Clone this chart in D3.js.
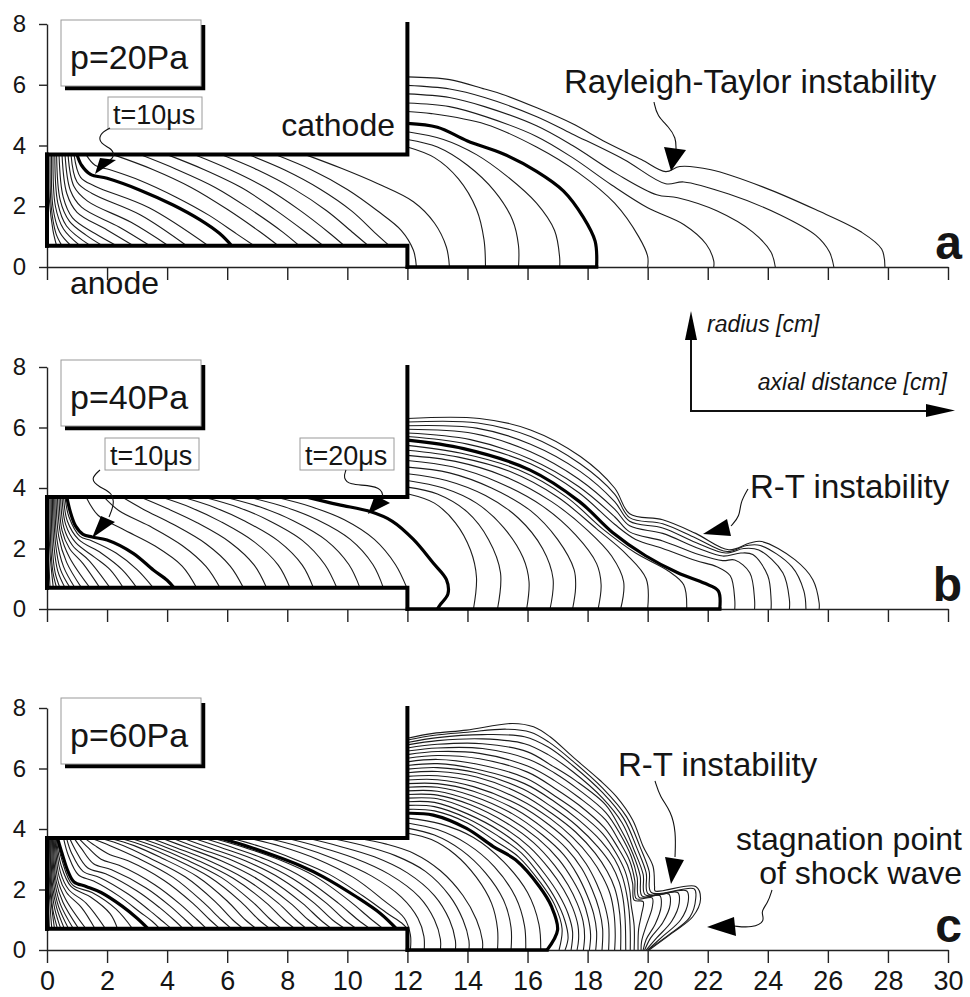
<!DOCTYPE html>
<html>
<head>
<meta charset="utf-8">
<script src="https://cdn.jsdelivr.net/npm/d3@7"></script>
<style>
  body { margin: 0; background: #fff; }
  text { font-family: "Liberation Sans", Arial, sans-serif; fill: #151515; }
</style>
</head>
<body>
<div id="chart"></div>
<script>
(function() {
  var width = 970,
    height = 997;

  // axis ticks
  var xTicks = [0, 2, 4, 6, 8, 10, 12, 14, 16, 18, 20, 22, 24, 26, 28, 30];
  var yTicks = [0, 2, 4, 6, 8];

  var panelLetters = ["a", "b", "c"];
  var pressures = ["p=20Pa", "p=40Pa", "p=60Pa"];

  // electrode geometry [cm]
  var cathodeR = 3.7,
    anodeR = 0.7,
    electrodeEnd = 12;

  // current sheath positions, [axial cm, radius cm], p=20Pa
  var thinA = [
    [[0.05,3.7],[0.08,2.2],[0.2,1.2],[0.32,0.7]],
    [[0.1,3.7],[0.14,2.0],[0.3,1.1],[0.5,0.7]],
    [[0.15,3.7],[0.2,1.95],[0.42,1.15],[0.8,0.7]],
    [[0.2,3.7],[0.28,2.0],[0.55,1.25],[1.1,0.7]],
    [[0.26,3.7],[0.36,2.1],[0.65,1.35],[1.45,0.7]],
    [[0.32,3.7],[0.44,2.2],[0.75,1.5],[1.3,1.05],[1.85,0.7]],
    [[0.4,3.7],[0.54,2.3],[0.85,1.62],[1.6,1.1],[2.32,0.7]],
    [[0.5,3.7],[0.66,2.42],[1.0,1.8],[2.0,1.22],[2.88,0.7]],
    [[0.6,3.7],[0.78,2.52],[1.15,1.97],[2.4,1.32],[3.43,0.7]],
    [[0.7,3.7],[0.9,2.65],[1.35,2.17],[2.8,1.47],[4.04,0.7]],
    [[0.8,3.7],[1.0,2.8],[1.5,2.42],[3.1,1.72],[4.65,0.7]],
    [[0.9,3.7],[1.12,2.95],[1.6,2.66],[3.4,1.95],[5.37,0.7]],
    [[1.3,3.7],[1.6,3.35],[2.1,3.2],[3.1,2.85],[4.3,2.3],[5.4,1.7],[6.3,1.1],[6.9,0.7]],
    [[2.2,3.7],[3.5,3.22],[4.8,2.62],[6.0,1.9],[7.1,1.15],[7.7,0.7]],
    [[3.1,3.7],[4.3,3.22],[5.6,2.62],[6.8,1.88],[7.85,1.15],[8.4,0.7]],
    [[4.0,3.7],[5.2,3.22],[6.5,2.6],[7.6,1.88],[8.65,1.12],[9.2,0.7]],
    [[4.9,3.7],[6.1,3.2],[7.3,2.6],[8.4,1.88],[9.4,1.12],[9.9,0.7]],
    [[5.8,3.7],[7.0,3.2],[8.2,2.58],[9.3,1.86],[10.2,1.12],[10.7,0.7]],
    [[6.7,3.7],[7.9,3.2],[9.1,2.56],[10.15,1.84],[10.95,1.1],[11.4,0.7]],
    [[7.6,3.7],[8.8,3.2],[10.0,2.55],[11.0,1.85],[11.8,1.2],[12.2,0.55],[12.3,0]],
    [[8.6,3.7],[9.8,3.25],[11.0,2.75],[12.2,2.15],[12.9,1.45],[13.3,0.65],[13.4,0]],
    [[12,3.95],[12.9,3.6],[13.7,2.9],[14.3,1.9],[14.55,0.9],[14.6,0]],
    [[12,4.2],[13.0,3.95],[14.0,3.35],[14.9,2.5],[15.5,1.55],[15.7,0.7],[15.7,0]],
    [[12,4.45],[13.2,4.2],[14.3,3.7],[15.3,3.0],[16.3,2.1],[16.9,1.2],[17.07,0.3],[17.07,0]],
    [[12,5.12],[12.8,5.05],[14.6,4.7],[16.3,3.95],[17.7,3.1],[18.9,2.1],[19.7,1.0],[20.0,0.35],[20.0,0]],
    [[12,5.4],[13.4,5.28],[14.6,4.95],[16.3,4.3],[17.5,3.6],[18.8,2.7],[20.0,1.95],[21.2,1.4],[21.95,0.75],[22.2,0.2],[22.2,0]],
    [[12,5.7],[13.4,5.58],[14.57,5.28],[16.3,4.65],[17.5,4.0],[19.0,3.05],[20.3,2.38],[21.0,2.28],[22.3,1.85],[23.5,1.15],[24.1,0.5],[24.25,0]],
    [[12,5.98],[13.41,5.86],[14.57,5.58],[16.31,4.95],[17.47,4.39],[19.21,3.54],[20.6,2.74],[21.2,2.8],[22.7,2.4],[24.4,1.72],[25.6,1.04],[26.05,0.5],[26.2,0]],
    [[12,6.26],[13.41,6.17],[14.57,5.86],[15.15,5.69],[16.31,5.24],[17.47,4.73],[18.63,4.1],[19.79,3.54],[20.6,3.14],[21.07,3.31],[22.11,3.2],[23.85,2.63],[25.59,1.89],[27.1,1.16],[27.79,0.59],[27.9,0]]
  ];
  var thickA = [
    [[1.0,3.7],[1.15,3.35],[1.45,3.05],[2.0,2.92],[3.1,2.53],[4.2,2.04],[5.1,1.55],[5.75,1.1],[6.15,0.7]],
    [[12,4.73],[13.0,4.6],[14.0,4.15],[15.2,3.72],[16.3,3.15],[17.2,2.5],[17.85,1.65],[18.25,0.85],[18.3,0]]
  ];

  // p=40Pa
  var thinB = [
    [[0.03,3.7],[0.05,2.0],[0.1,0.7]],
    [[0.06,3.7],[0.09,2.0],[0.21,0.7]],
    [[0.1,3.7],[0.13,2.0],[0.2,1.2],[0.32,0.7]],
    [[0.14,3.7],[0.18,2.0],[0.27,1.2],[0.43,0.7]],
    [[0.18,3.7],[0.23,2.1],[0.36,1.25],[0.6,0.7]],
    [[0.22,3.7],[0.28,2.2],[0.45,1.3],[0.77,0.7]],
    [[0.26,3.7],[0.33,2.3],[0.55,1.4],[0.93,0.7]],
    [[0.3,3.7],[0.39,2.4],[0.65,1.55],[1.15,0.7]],
    [[0.35,3.7],[0.45,2.5],[0.75,1.7],[1.43,0.7]],
    [[0.4,3.7],[0.5,2.6],[0.75,2.0],[1.2,1.5],[1.76,0.7]],
    [[0.45,3.7],[0.56,2.7],[0.85,2.1],[1.4,1.6],[2.1,0.7]],
    [[0.5,3.7],[0.62,2.8],[0.95,2.2],[1.6,1.7],[2.1,1.3],[2.54,0.7]],
    [[0.55,3.7],[0.68,2.9],[1.05,2.3],[1.8,1.85],[2.5,1.3],[2.99,0.7]],
    [[0.6,3.7],[0.73,3.05],[1.1,2.4],[1.5,2.25],[2.3,1.85],[3.0,1.3],[3.54,0.7]],
    [[1.3,3.7],[1.7,3.1],[2.5,2.65],[3.6,2.08],[4.5,1.42],[4.98,0.7]],
    [[1.9,3.7],[2.4,3.25],[3.4,2.75],[4.5,2.1],[5.3,1.4],[5.76,0.7]],
    [[2.5,3.7],[3.2,3.3],[4.2,2.8],[5.3,2.15],[6.1,1.42],[6.54,0.7]],
    [[3.1,3.7],[4.0,3.32],[5.0,2.85],[6.1,2.2],[6.9,1.45],[7.31,0.7]],
    [[3.8,3.7],[4.8,3.35],[5.8,2.88],[6.9,2.22],[7.7,1.45],[8.09,0.7]],
    [[4.5,3.7],[5.6,3.35],[6.6,2.9],[7.7,2.25],[8.5,1.45],[8.87,0.7]],
    [[5.2,3.7],[6.4,3.35],[7.4,2.92],[8.5,2.27],[9.25,1.47],[9.65,0.7]],
    [[5.9,3.7],[7.1,3.37],[8.2,2.92],[9.3,2.27],[10.05,1.47],[10.42,0.7]],
    [[6.7,3.7],[7.9,3.38],[9.0,2.95],[10.1,2.3],[10.85,1.47],[11.2,0.7]],
    [[7.6,3.7],[8.8,3.38],[9.9,2.95],[10.9,2.3],[11.6,1.47],[11.98,0.7]],
    [[12,3.81],[12.9,3.5],[13.6,2.85],[14.1,1.95],[14.3,1.05],[14.2,0]],
    [[12,4.03],[13.0,3.8],[14.0,3.2],[14.7,2.3],[15.1,1.2],[15.0,0]],
    [[12,4.25],[13.2,4.0],[14.3,3.5],[15.2,2.7],[15.85,1.7],[16.05,0.9],[15.97,0]],
    [[12,4.47],[13.3,4.25],[14.6,3.75],[15.7,3.0],[16.5,2.0],[16.85,1.0],[16.75,0]],
    [[12,4.69],[13.4,4.5],[14.8,4.0],[16.1,3.25],[17.0,2.3],[17.55,1.3],[17.6,0.7],[17.5,0]],
    [[12,4.91],[13.5,4.7],[15.0,4.2],[16.5,3.4],[17.6,2.45],[18.3,1.5],[18.45,0.8],[18.35,0]],
    [[12,5.08],[13.6,4.88],[15.2,4.4],[16.8,3.55],[18.0,2.6],[18.8,1.75],[19.2,0.9],[19.1,0]],
    [[12,5.25],[13.7,5.02],[15.4,4.55],[17.0,3.7],[18.3,2.65],[19.3,1.8],[19.95,1.0],[20.0,0]],
    [[12,5.41],[13.8,5.15],[15.7,4.6],[17.3,3.7],[18.5,2.65],[19.6,1.85],[20.7,1.25],[21.2,0.8],[21.3,0]],
    [[12,5.7],[14.0,5.45],[16.1,4.8],[17.7,3.85],[18.9,2.8],[19.6,2.3],[20.5,2.0],[21.6,1.6],[22.3,1.4],[22.75,1.1],[22.9,0.3],[22.9,0]],
    [[12,5.82],[14.1,5.6],[16.1,4.95],[17.7,4.05],[18.9,3.05],[19.4,2.55],[20.5,2.25],[21.7,1.8],[22.5,1.6],[22.9,1.62],[23.4,1.2],[23.56,0.3],[23.56,0]],
    [[12,5.94],[14.2,5.8],[16.1,5.2],[17.7,4.3],[18.9,3.3],[19.4,2.75],[20.5,2.5],[21.7,2.0],[22.5,1.75],[23.1,1.85],[23.5,1.8],[24.0,1.1],[24.11,0.3],[24.11,0]],
    [[12,6.06],[14.3,5.98],[16.1,5.45],[17.75,4.55],[18.9,3.55],[19.4,2.9],[20.5,2.68],[21.6,2.2],[22.6,1.85],[23.2,2.0],[23.7,1.95],[24.5,1.2],[24.72,0.3],[24.72,0]],
    [[12,6.18],[14.35,6.15],[16.1,5.7],[17.75,4.8],[18.9,3.8],[19.4,3.02],[20.5,2.82],[21.6,2.35],[22.65,1.9],[23.3,2.1],[23.75,2.1],[24.8,1.4],[25.2,0.6],[25.27,0]],
    [[12,6.3],[14.4,6.3],[16.1,5.92],[17.76,5.04],[18.9,4.0],[19.4,3.15],[20.5,2.95],[21.6,2.5],[22.7,1.96],[23.4,2.18],[23.8,2.23],[24.9,1.63],[25.5,0.97],[25.71,0.2],[25.71,0]]
  ];
  var thickB = [
    [[0.66,3.7],[0.78,3.2],[0.95,2.75],[1.2,2.47],[1.5,2.38],[2.0,2.28],[2.87,1.84],[3.54,1.29],[4.0,0.95],[4.23,0.7]],
    [[8.65,3.7],[9.7,3.45],[10.76,3.22],[11.5,2.9],[12.2,2.3],[12.86,1.52],[13.3,0.97],[13.35,0.5],[13.1,0.15],[13.0,0]],
    [[12,5.58],[13.87,5.3],[16.07,4.6],[17.73,3.55],[18.83,2.53],[19.93,1.76],[21.0,1.2],[21.9,0.85],[22.35,0.6],[22.4,0]]
  ];

  // p=60Pa
  var thinC = [
    [[0.02,3.7],[0.04,2.0],[0.08,0.7]],
    [[0.04,3.7],[0.07,2.0],[0.16,0.7]],
    [[0.06,3.7],[0.1,2.0],[0.25,0.7]],
    [[0.08,3.7],[0.13,2.0],[0.2,1.3],[0.35,0.7]],
    [[0.1,3.7],[0.16,2.05],[0.26,1.35],[0.46,0.7]],
    [[0.12,3.7],[0.19,2.1],[0.32,1.4],[0.58,0.7]],
    [[0.15,3.7],[0.23,2.15],[0.38,1.45],[0.72,0.7]],
    [[0.18,3.7],[0.27,2.2],[0.45,1.5],[0.88,0.7]],
    [[0.21,3.7],[0.31,2.25],[0.53,1.58],[1.06,0.7]],
    [[0.24,3.7],[0.36,2.32],[0.62,1.68],[1.3,0.7]],
    [[0.27,3.7],[0.4,2.45],[0.65,1.9],[1.15,1.4],[1.6,0.7]],
    [[0.29,3.7],[0.44,2.6],[0.72,2.0],[1.3,1.55],[1.95,0.7]],
    [[0.31,3.7],[0.47,2.8],[0.8,2.1],[1.45,1.75],[2.1,1.2],[2.35,0.7]],
    [[0.33,3.7],[0.49,3.0],[0.85,2.15],[1.5,1.9],[2.3,1.35],[2.85,0.7]],
    [[0.55,3.7],[0.72,3.1],[1.05,2.48],[1.55,2.28],[2.4,1.78],[3.1,1.25],[3.5,0.95],[3.76,0.7]],
    [[0.65,3.7],[0.82,3.2],[1.2,2.6],[1.75,2.4],[2.7,1.85],[3.4,1.32],[3.85,0.95],[4.15,0.7]],
    [[0.75,3.7],[0.95,3.3],[1.35,2.72],[1.95,2.52],[3.0,1.95],[3.75,1.4],[4.22,1.0],[4.54,0.7]],
    [[0.9,3.7],[1.15,3.35],[1.55,2.85],[2.15,2.65],[3.3,2.05],[4.1,1.45],[4.6,1.0],[4.92,0.7]],
    [[1.05,3.7],[1.35,3.4],[1.8,3.0],[2.4,2.8],[3.6,2.15],[4.45,1.5],[5.0,1.0],[5.32,0.7]],
    [[1.25,3.7],[1.6,3.45],[2.1,3.15],[2.7,2.95],[3.9,2.3],[4.85,1.55],[5.42,1.0],[5.76,0.7]],
    [[1.45,3.7],[2.1,3.45],[3.0,3.05],[4.2,2.4],[5.2,1.58],[5.8,1.0],[6.15,0.7]],
    [[1.75,3.7],[2.55,3.45],[3.4,3.05],[4.6,2.42],[5.6,1.6],[6.18,1.0],[6.54,0.7]],
    [[2.05,3.7],[2.9,3.45],[3.8,3.05],[5.0,2.43],[6.0,1.62],[6.6,1.0],[6.98,0.7]],
    [[2.4,3.7],[3.25,3.44],[4.2,3.03],[5.4,2.42],[6.45,1.6],[7.05,1.0],[7.43,0.7]],
    [[2.75,3.7],[3.6,3.42],[4.6,3.0],[5.8,2.4],[6.85,1.58],[7.45,1.0],[7.82,0.7]],
    [[3.1,3.7],[3.95,3.4],[5.0,2.97],[6.2,2.37],[7.3,1.56],[7.88,1.0],[8.26,0.7]],
    [[3.45,3.7],[4.3,3.38],[5.4,2.95],[6.6,2.35],[7.7,1.55],[8.28,1.0],[8.65,0.7]],
    [[3.8,3.7],[4.7,3.37],[5.8,2.95],[7.0,2.35],[8.1,1.55],[8.7,1.0],[9.09,0.7]],
    [[4.15,3.7],[5.1,3.35],[6.2,2.95],[7.4,2.35],[8.5,1.55],[9.1,1.0],[9.48,0.7]],
    [[4.5,3.7],[5.5,3.35],[6.6,2.95],[7.8,2.35],[8.9,1.55],[9.5,1.0],[9.93,0.7]],
    [[4.85,3.7],[5.9,3.35],[7.0,2.95],[8.2,2.35],[9.3,1.55],[9.9,1.0],[10.31,0.7]],
    [[5.2,3.7],[6.3,3.35],[7.4,2.95],[8.6,2.35],[9.7,1.55],[10.35,1.0],[10.76,0.7]],
    [[5.5,3.7],[6.6,3.38],[7.7,3.0],[8.9,2.45],[10.1,1.6],[10.75,1.05],[11.2,0.7]],
    [[6.1,3.7],[7.1,3.42],[8.2,3.02],[9.4,2.5],[10.5,1.8],[11.35,1.2],[11.8,0.9],[11.98,0.72]],
    [[6.7,3.7],[7.8,3.42],[9.0,3.0],[10.2,2.4],[11.2,1.65],[11.9,1.05],[12.1,0.5],[12.1,0]],
    [[7.3,3.7],[8.4,3.42],[9.6,3.0],[10.8,2.45],[11.8,1.75],[12.35,1.05],[12.55,0.45],[12.56,0]],
    [[7.95,3.7],[9.0,3.43],[10.2,3.05],[11.4,2.5],[12.4,1.75],[12.9,1.0],[13.1,0.35],[13.1,0]],
    [[8.65,3.7],[9.7,3.44],[10.9,3.08],[12.0,2.55],[12.9,1.8],[13.4,1.0],[13.6,0.3],[13.6,0]],
    [[9.4,3.7],[10.5,3.46],[11.6,3.12],[12.6,2.6],[13.4,1.8],[13.85,1.0],[14.05,0.3],[14.05,0]],
    [[10.3,3.7],[11.3,3.5],[12.2,3.2],[13.1,2.62],[13.85,1.8],[14.3,1.0],[14.5,0.3],[14.5,0]],
    [[12,3.86],[12.8,3.65],[13.6,3.15],[14.3,2.4],[14.8,1.55],[15.0,0.7],[15.0,0]],
    [[12,4.03],[12.9,3.8],[13.8,3.3],[14.6,2.55],[15.2,1.65],[15.45,0.75],[15.45,0]],
    [[12,4.2],[13.0,3.98],[14.0,3.5],[14.9,2.75],[15.6,1.75],[15.9,0.8],[15.94,0]],
    [[12,4.36],[13.1,4.17],[14.2,3.72],[15.2,2.92],[16.0,1.9],[16.38,0.85],[16.44,0]],
    [[12,4.65],[12.9,4.6],[14.0,4.2],[14.9,3.62],[15.7,3.08],[16.45,2.2],[16.9,1.5],[17.15,0.7],[17.05,0]],
    [[12,4.78],[12.9,4.74],[14.0,4.35],[15.0,3.78],[15.8,3.2],[16.5,2.35],[16.95,1.65],[17.25,0.95],[17.35,0.4],[17.25,0]],
    [[12,4.9],[12.9,4.88],[14.0,4.5],[15.1,3.92],[15.9,3.3],[16.6,2.48],[17.05,1.82],[17.35,1.2],[17.5,0.6],[17.45,0]],
    [[12,5.02],[13.0,5.0],[14.05,4.65],[15.2,4.05],[16.05,3.42],[16.75,2.65],[17.2,2.0],[17.5,1.4],[17.68,0.8],[17.7,0.35],[17.65,0]],
    [[12,5.14],[13.0,5.12],[14.1,4.8],[15.3,4.2],[16.2,3.55],[16.9,2.8],[17.35,2.15],[17.65,1.55],[17.85,0.95],[17.9,0.45],[17.86,0]],
    [[12,5.26],[13.0,5.25],[14.1,4.95],[15.4,4.35],[16.35,3.68],[17.05,2.98],[17.5,2.32],[17.82,1.7],[18.02,1.05],[18.1,0.5],[18.06,0]],
    [[12,5.38],[13.0,5.38],[14.15,5.1],[15.5,4.5],[16.5,3.8],[17.2,3.15],[17.65,2.5],[17.98,1.82],[18.2,1.2],[18.3,0.6],[18.27,0]],
    [[12,5.5],[13.0,5.5],[14.2,5.25],[15.6,4.65],[16.6,3.97],[17.3,3.35],[17.8,2.7],[18.15,2.0],[18.38,1.35],[18.5,0.7],[18.48,0]],
    [[12,5.62],[13.0,5.63],[14.2,5.4],[15.7,4.8],[16.7,4.15],[17.4,3.55],[17.95,2.85],[18.3,2.2],[18.55,1.55],[18.7,0.85],[18.7,0]],
    [[12,5.74],[13.0,5.76],[14.25,5.56],[15.75,4.97],[16.75,4.35],[17.5,3.72],[18.1,3.05],[18.5,2.42],[18.75,1.85],[18.88,1.2],[18.92,0.5],[18.9,0]],
    [[12,5.86],[13.0,5.9],[14.3,5.72],[15.8,5.15],[16.8,4.52],[17.6,3.9],[18.25,3.2],[18.65,2.6],[18.9,2.05],[19.03,1.5],[19.1,0.8],[19.1,0]],
    [[12,5.98],[13.0,6.03],[14.3,5.86],[15.85,5.32],[16.85,4.7],[17.65,4.1],[18.35,3.4],[18.8,2.8],[19.05,2.25],[19.18,1.7],[19.25,1.0],[19.27,0]],
    [[12,6.1],[13.0,6.16],[14.2,6.0],[15.9,5.5],[16.9,4.9],[17.7,4.3],[18.45,3.6],[18.9,3.0],[19.15,2.45],[19.3,1.85],[19.38,1.3],[19.42,0.6],[19.42,0]],
    [[12,6.22],[13.0,6.3],[14.3,6.15],[15.95,5.68],[16.9,5.1],[17.7,4.55],[18.5,3.85],[18.95,3.2],[19.25,2.6],[19.4,2.0],[19.45,1.5],[19.55,0.8],[19.55,0]],
    [[12,6.34],[13.0,6.43],[14.4,6.32],[16.0,5.88],[16.9,5.35],[17.7,4.8],[18.55,4.05],[19.0,3.4],[19.33,2.8],[19.5,2.2],[19.55,1.65],[19.85,1.6],[19.8,1.2],[19.7,0.7],[19.68,0]],
    [[12,6.46],[13.0,6.56],[14.4,6.5],[16.0,6.08],[16.9,5.6],[17.7,5.05],[18.6,4.3],[19.05,3.6],[19.4,2.95],[19.57,2.3],[19.62,1.7],[20.15,1.72],[20.15,1.4],[19.95,0.8],[19.8,0.3],[19.78,0]],
    [[12,6.58],[13.0,6.68],[14.5,6.66],[16.05,6.3],[16.9,5.85],[17.7,5.3],[18.6,4.55],[19.1,3.8],[19.45,3.1],[19.65,2.4],[19.72,1.74],[20.4,1.8],[20.45,1.45],[20.25,0.85],[19.95,0.35],[19.85,0]],
    [[12,6.68],[13.0,6.8],[14.5,6.82],[16.0,6.55],[16.8,6.1],[17.6,5.6],[18.6,4.8],[19.1,4.0],[19.5,3.2],[19.75,2.45],[19.82,1.78],[20.7,1.85],[20.75,1.5],[20.5,0.9],[20.1,0.4],[19.9,0]],
    [[12,6.78],[13.0,6.92],[14.5,6.98],[15.9,6.82],[16.7,6.45],[17.5,5.9],[18.5,5.02],[19.15,4.2],[19.55,3.3],[19.85,2.5],[19.92,1.82],[21.0,1.9],[21.05,1.55],[20.8,0.95],[20.3,0.4],[19.95,0]],
    [[12,6.86],[13.0,7.02],[14.5,7.12],[15.9,7.05],[16.7,6.7],[17.5,6.1],[18.5,5.2],[19.2,4.35],[19.65,3.35],[19.95,2.55],[20.02,1.85],[21.3,1.95],[21.35,1.6],[21.1,1.0],[20.5,0.45],[20.0,0]],
    [[12,6.94],[12.9,7.1],[14.0,7.2],[15.3,7.3],[16.1,7.2],[16.7,6.88],[17.5,6.25],[18.5,5.35],[19.3,4.4],[19.75,3.4],[20.05,2.6],[20.12,1.9],[21.55,2.02],[21.6,1.7],[21.4,1.08],[20.7,0.5],[20.0,0]],
    [[12,7.0],[12.86,7.16],[13.97,7.27],[15.5,7.49],[16.2,7.38],[16.75,7.05],[17.5,6.39],[18.4,5.62],[18.96,5.07],[19.5,4.3],[19.85,3.42],[20.18,2.76],[20.23,2.09],[20.25,1.95],[21.6,2.1],[21.76,1.68],[21.5,1.1],[20.8,0.55],[20.05,0]]
  ];
  var thickC = [
    [[0.35,3.7],[0.5,3.2],[0.7,2.6],[0.9,2.25],[1.3,2.1],[1.8,1.9],[2.5,1.45],[3.0,1.05],[3.37,0.7]],
    [[5.76,3.7],[6.6,3.45],[7.54,3.13],[8.4,2.8],[9.2,2.42],[10.3,1.76],[11.1,1.21],[11.64,0.7]],
    [[12,4.52],[12.86,4.46],[13.97,4.02],[14.86,3.42],[15.6,2.98],[16.4,2.09],[16.8,1.43],[17.0,0.66],[16.65,0]]
  ];

  var thinSets = [thinA, thinB, thinC],
    thickSets = [thickA, thickB, thickC];

  // pixel range of radius 0..8 for each panel
  var panelRange = [[267, 24], [609, 367], [950, 708]];
  var boxTop = [20, 360, 698];

  var svg = d3.select("#chart")
    .append("svg")
    .attr("width", width)
    .attr("height", height);

  svg.append("rect")
    .attr("width", width)
    .attr("height", height)
    .attr("fill", "#fff");

  var x = d3.scaleLinear().domain([0, 30]).range([47, 948]);

  panelLetters.forEach(function(letter, i) {
    var y = d3.scaleLinear().domain([0, 8]).range(panelRange[i]);
    var g = svg.append("g").attr("class", "panel-" + letter);

    var smooth = d3.line()
      .x(function(d) { return x(d[0]); })
      .y(function(d) { return y(d[1]); })
      .curve(d3.curveCatmullRom.alpha(0.5));

    var straight = d3.line()
      .x(function(d) { return x(d[0]); })
      .y(function(d) { return y(d[1]); });

    g.selectAll(".thin")
      .data(thinSets[i])
      .enter().append("path")
      .attr("class", "thin")
      .attr("d", smooth)
      .attr("fill", "none")
      .attr("stroke", "#1c1c1c")
      .attr("stroke-width", 1.1);

    g.selectAll(".thick")
      .data(thickSets[i])
      .enter().append("path")
      .attr("class", "thick")
      .attr("d", smooth)
      .attr("fill", "none")
      .attr("stroke", "#000")
      .attr("stroke-width", 3.2);

    // axes
    var yAxis = d3.axisLeft(y)
      .tickValues(yTicks)
      .tickSize(8)
      .tickSizeOuter(0)
      .tickPadding(13);

    var xAxis = d3.axisBottom(x)
      .tickValues(xTicks)
      .tickSize(13)
      .tickSizeOuter(0)
      .tickPadding(8)
      .tickFormat(i === 2 ? d3.format("d") : function() { return ""; });

    var ya = g.append("g")
      .attr("transform", "translate(" + x(0) + ",0)")
      .call(yAxis);
    ya.selectAll("text").attr("font-size", 24).attr("fill", "#151515")
      .attr("font-family", "Liberation Sans, Arial, sans-serif");

    var xa = g.append("g")
      .attr("transform", "translate(0," + y(0) + ")")
      .call(xAxis);
    xa.selectAll("text").attr("font-size", 27).attr("fill", "#151515")
      .attr("font-family", "Liberation Sans, Arial, sans-serif");

    [ya, xa].forEach(function(a) {
      a.selectAll("path, line").attr("stroke", "#222").attr("stroke-width", 1.4);
    });

    // electrodes and the thick run along the axis
    var lastThick = thickSets[i][thickSets[i].length - 1];
    var axisRunEnd = lastThick[lastThick.length - 1][0];
    var electrodes = [
      [[0, cathodeR], [electrodeEnd, cathodeR], [electrodeEnd, 8]],
      [[0, anodeR], [electrodeEnd, anodeR], [electrodeEnd, 0]],
      [[0, anodeR], [0, cathodeR]],
      [[electrodeEnd, 0], [axisRunEnd, 0]]
    ];
    g.selectAll(".electrode")
      .data(electrodes)
      .enter().append("path")
      .attr("class", "electrode")
      .attr("d", straight)
      .attr("fill", "none")
      .attr("stroke", "#000")
      .attr("stroke-width", function(d, k) { return k === 3 ? 3.4 : 4; })
      .attr("stroke-linecap", "square");

    // pressure box with shadow
    var bx0 = 61, bx1 = 201, by0 = boxTop[i], by1 = boxTop[i] + 66;
    g.append("path")
      .attr("d", "M" + (bx0 + 4) + "," + (by1 + 2) + "H" + (bx1 + 2) + "V" + (by0 + 5))
      .attr("fill", "none")
      .attr("stroke", "#000")
      .attr("stroke-width", 4.5);
    g.append("rect")
      .attr("x", bx0).attr("y", by0)
      .attr("width", bx1 - bx0).attr("height", by1 - by0)
      .attr("fill", "#fff")
      .attr("stroke", "#9a9a9a")
      .attr("stroke-width", 1);
    g.append("text")
      .attr("x", 70)
      .attr("y", by0 + 49)
      .attr("font-size", 34)
      .text(pressures[i]);

    g.append("text")
      .attr("x", 962)
      .attr("y", y(0) - 8)
      .attr("text-anchor", "end")
      .attr("font-size", 48)
      .attr("font-weight", "bold")
      .text(letter);
  });

  // small labelled boxes
  function tagBox(x0, y0, label) {
    svg.append("rect")
      .attr("x", x0).attr("y", y0)
      .attr("width", 94).attr("height", 32)
      .attr("fill", "#fff")
      .attr("stroke", "#9a9a9a")
      .attr("stroke-width", 1);
    svg.append("text")
      .attr("x", x0 + 5)
      .attr("y", y0 + 27)
      .attr("font-size", 27)
      .text(label);
  }

  // wavy leader plus filled arrowhead
  var leader = d3.line().curve(d3.curveBasis);
  function pointer(lead, head) {
    svg.append("path")
      .attr("d", leader(lead))
      .attr("fill", "none")
      .attr("stroke", "#111")
      .attr("stroke-width", 1.1);
    svg.append("path")
      .attr("d", "M" + head.join("L") + "Z")
      .attr("fill", "#000");
  }

  // panel a
  tagBox(108, 97, "t=10μs");
  pointer([[110,128],[99,134],[100,144],[113,149],[114,157],[110,160]], [[100,158],[116,160],[95,174]]);
  svg.append("text").attr("x", 395).attr("y", 136).attr("text-anchor", "end")
    .attr("font-size", 32).text("cathode");
  svg.append("text").attr("x", 70).attr("y", 294)
    .attr("font-size", 32).text("anode");
  svg.append("text").attr("x", 564).attr("y", 93)
    .attr("font-size", 33).text("Rayleigh-Taylor instability");
  pointer([[654,102],[657,116],[669,127],[676,138],[676,149]], [[664,147],[686,150],[671,171]]);

  // panel b
  tagBox(105, 438, "t=10μs");
  pointer([[100,470],[90,479],[99,487],[113,493],[114,505],[109,517]], [[101,516],[115,522],[92,538]]);
  tagBox(300, 438, "t=20μs");
  pointer([[346,470],[343,478],[350,485],[368,485],[382,489],[383,497]], [[375,495],[390,503],[368,514]]);
  svg.append("text").attr("x", 750).attr("y", 498)
    .attr("font-size", 33).text("R-T instability");
  pointer([[748,489],[740,503],[740,516],[731,526]], [[727,519],[731,536],[703,534]]);

  // panel c
  svg.append("text").attr("x", 618).attr("y", 776)
    .attr("font-size", 33).text("R-T instability");
  pointer([[655,781],[660,797],[671,811],[676,832],[675,857]], [[665,857],[684,860],[671,884]]);
  svg.append("text").attr("x", 962).attr("y", 850).attr("text-anchor", "end")
    .attr("font-size", 32).text("stagnation point");
  svg.append("text").attr("x", 962).attr("y", 884).attr("text-anchor", "end")
    .attr("font-size", 32).text("of shock wave");
  pointer([[772,890],[768,903],[760,912],[766,921],[752,928],[734,926]], [[734,917],[736,936],[707,927]]);

  // direction key
  svg.append("path")
    .attr("d", "M691,338V411H928")
    .attr("fill", "none")
    .attr("stroke", "#111")
    .attr("stroke-width", 2);
  svg.append("path").attr("d", "M685,340L697,340L691,311Z").attr("fill", "#000");
  svg.append("path").attr("d", "M926,404L926,417L955,410.5Z").attr("fill", "#000");
  svg.append("text").attr("x", 707).attr("y", 332)
    .attr("font-size", 23).attr("font-style", "italic").text("radius [cm]");
  svg.append("text").attr("x", 947).attr("y", 390).attr("text-anchor", "end")
    .attr("font-size", 23).attr("font-style", "italic").text("axial distance [cm]");
})();
</script>
</body>
</html>
